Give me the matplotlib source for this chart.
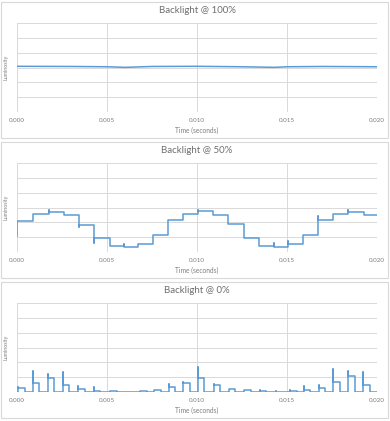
import numpy as np
import matplotlib.pyplot as plt
from matplotlib.patches import Rectangle

# Backlight @ 100%: nearly flat line
t100 = [0.0, 0.003, 0.005, 0.006, 0.0075, 0.010, 0.0125, 0.0143, 0.015, 0.017, 0.020]
v100 = [3.08, 3.07, 3.05, 3.01, 3.07, 3.08, 3.05, 3.01, 3.05, 3.07, 3.05]

# Backlight @ 50%: step edges, new level after edge, overshoot at the edge
edges50 = [0.0, 0.00087, 0.00176, 0.00263, 0.00346, 0.0043, 0.00515, 0.00596,
           0.00672, 0.00756, 0.00837, 0.0092, 0.01004, 0.01087, 0.01172, 0.01259,
           0.01344, 0.01426, 0.01504, 0.01589, 0.0167, 0.01756, 0.0184, 0.01926]
levels50 = [2.12, 2.58, 2.72, 2.47, 1.84, 0.92, 0.43, 0.34,
            0.56, 1.12, 2.18, 2.58, 2.74, 2.49, 1.89, 0.92,
            0.43, 0.34, 0.55, 1.12, 2.18, 2.58, 2.72, 2.47]
spikes50 = [1.05, 2.58, 2.86, 2.47, 1.70, 0.62, 0.43, 0.52,
            0.56, 1.12, 2.18, 2.58, 2.86, 2.49, 1.89, 0.92,
            0.43, 0.58, 0.72, 1.12, 2.40, 2.58, 2.86, 2.47]

# Backlight @ 0%: short pulses (start time, spike peak, plateau)
pulse_t = [0.00005, 0.00087, 0.00170, 0.00254, 0.00339, 0.00426, 0.00519, 0.00611,
           0.00685, 0.00763, 0.00843, 0.00922, 0.01004, 0.01093, 0.01176, 0.01263,
           0.01348, 0.01441, 0.01519, 0.01593, 0.01676, 0.01756, 0.01839, 0.01922]
pulse_peak = [0.33, 1.44, 1.21, 1.33, 0.40, 0.34, 0.06, 0.03,
              0.09, 0.13, 0.56, 0.66, 1.66, 0.52, 0.22, 0.13,
              0.16, 0.05, 0.16, 0.43, 0.45, 1.55, 1.44, 1.35]
pulse_flat = [0.27, 0.61, 0.94, 0.47, 0.22, 0.09, 0.04, 0.02,
              0.06, 0.11, 0.34, 0.63, 0.94, 0.49, 0.20, 0.11,
              0.04, 0.03, 0.04, 0.16, 0.27, 0.65, 1.06, 0.49]
pulse_width = 0.00037
base0 = 0.02

blue = "#5b9bd5"
grid_c = "#d9d9d9"
title_c = "#6f6f6f"
tick_c = "#7f7f7f"
plt.rcParams["font.family"] = ["Lato", "DejaVu Sans"]


def step_series(edges, levels, spikes):
    xs, ys = [edges[0], edges[0]], [spikes[0], levels[0]]
    for i in range(1, len(edges)):
        xs += [edges[i], edges[i], edges[i]]
        ys += [levels[i - 1], spikes[i], levels[i]]
    xs.append(0.020)
    ys.append(levels[-1])
    return xs, ys


def pulse_series(starts, peaks, flats, width, base):
    xs, ys = [0.0], [base]
    for s, p, f in zip(starts, peaks, flats):
        xs += [s, s, s, s + width, s + width]
        ys += [base, p, f, f, base]
    xs.append(0.020)
    ys.append(base)
    return xs, ys


fig = plt.figure(figsize=(3.9, 4.21), dpi=100)

panels = [
    ("Backlight @ 100%", (t100, v100)),
    ("Backlight @ 50%", step_series(edges50, levels50, spikes50)),
    ("Backlight @ 0%", pulse_series(pulse_t, pulse_peak, pulse_flat, pulse_width, base0)),
]

W, H = 390, 421
for k, (title, (xs, ys)) in enumerate(panels):
    top = k * 140
    # panel border
    fig.add_artist(Rectangle((1 / W, 1 - (top + 138) / H), 387 / W, 136 / H,
                             transform=fig.transFigure, fill=False,
                             edgecolor=grid_c, linewidth=0.8))
    ax = fig.add_axes([17 / W, 1 - (top + 112) / H, 360 / W, 89 / H])
    ax.plot(xs, ys, color=blue, linewidth=1.1)
    ax.set_xlim(0, 0.020)
    ax.set_ylim(0, 6)
    ax.set_xticks([0.0, 0.005, 0.010, 0.015, 0.020])
    ax.set_xticklabels(["0.000", "0.005", "0.010", "0.015", "0.020"])
    ax.set_yticks(range(7))
    ax.set_yticklabels([])
    ax.grid(True, color=grid_c, linewidth=0.7)
    ax.set_axisbelow(True)
    for s in ax.spines.values():
        s.set_visible(False)
    ax.tick_params(length=0, labelsize=4.5, colors=tick_c, pad=4)
    ax.set_title(title, fontsize=7, color=title_c, pad=7)
    ax.set_xlabel("Time (seconds)", fontsize=4.8, color=tick_c, labelpad=3)
    ax.set_ylabel("Luminosity", fontsize=3.8, color=tick_c, labelpad=2)

fig.savefig("out.png", dpi=100, facecolor="white")
